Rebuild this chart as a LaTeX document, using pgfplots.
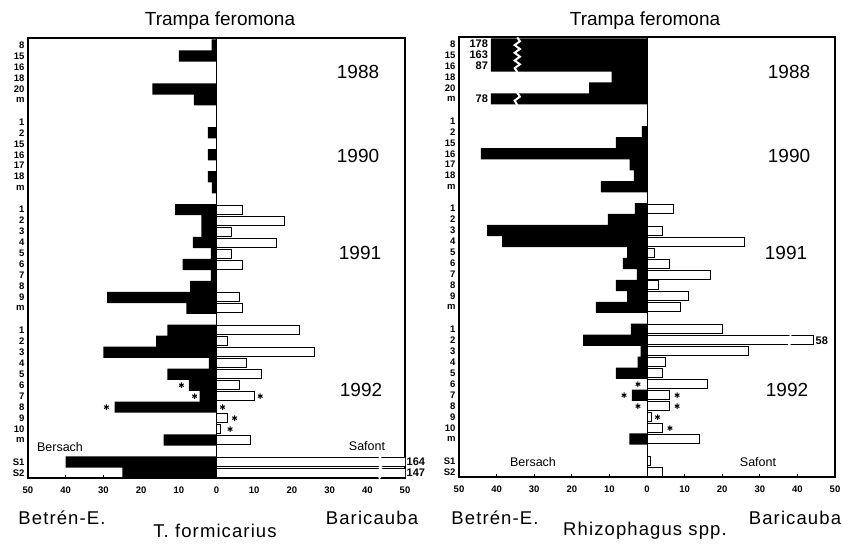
\documentclass[border=0pt]{standalone}
\usepackage{fontspec}
\setmainfont{Liberation Sans}
\newfontfamily\spacedfont[LetterSpace=6]{Liberation Sans}
\usepackage{pgfplots}
\usepackage{pgfplotstable}
\pgfplotsset{compat=1.18}

% ---- T. formicarius: Betren-E. (black, to the left) ----
\pgfplotstableread{
pos val
1 -1.3
2 -10
5 -17
6 -6
9 -2.3
11 -2.3
13 -2.3
14 -1.2
16 -11
17 -4
18 -4
19 -6.3
20 -1.5
21 -9
22 -1.5
23 -7
24 -29
25 -8
27 -13
28 -16
29 -30
30 -2
31 -13
32 -7.3
33 -4.5
34 -27
37 -14
39 -40
40 -25
}\leftblack
% ---- T. formicarius: Baricauba (white, to the right) ----
\pgfplotstableread{
pos val
16 7
17 18
18 4
19 16
20 4
21 7
24 6
25 7
27 22
28 3
29 26
30 8
31 12
32 6
33 10
35 3
36 1
37 9
39 164
40 147
}\leftwhite
% ---- Rhizophagus spp.: Betren-E. ----
\pgfplotstableread{
pos val
1 -178
2 -163
3 -87
4 -9.4
5 -15.4
6 -78
9 -1.4
10 -8.3
11 -44.2
12 -4.6
13 -3.5
14 -12.3
16 -3.2
17 -10.4
18 -42.5
19 -38.5
20 -5.3
21 -6.4
22 -2.7
23 -8.3
24 -5.3
25 -13.6
27 -4.3
28 -17
29 -1.7
30 -2.5
31 -8.3
33 -4
37 -4.7
}\rightblack
% ---- Rhizophagus spp.: Baricauba ----
\pgfplotstableread{
pos val
16 7
18 4
19 26
20 2
21 6
22 17
23 3
24 11
25 9
27 20
28 58
29 27
30 5
31 4
32 16
33 6
34 6
35 1.2
36 4
37 14
39 1
40 4
}\rightwhite

\pgfplotsset{
  panel/.style={
    scale only axis, height=440pt,
    xmin=-50, xmax=50, ymin=0.36, ymax=40.46, y dir=reverse,
    clip mode=individual,
    axis line style={line width=1.3pt},
    xtick={-50,-40,...,50},
    xticklabels={50,40,30,20,10,0,10,20,30,40,50},
    xtick pos=bottom, tick align=inside,
    major tick length=3pt,
    xtick style={line width=0.8pt, black},
    ytick={1,2,3,4,5,6,8,9,10,11,12,13,14,16,17,18,19,20,21,22,23,24,25,27,28,29,30,31,32,33,34,35,36,37,39,40},
    yticklabels={8,15,16,18,20,m,1,2,15,16,17,18,m,1,2,3,4,5,6,7,8,9,m,1,2,3,4,5,6,7,8,9,10,m,S1,S2},
    ytick style={draw=none},
    tick label style={font=\bfseries\fontsize{9.5}{10}\selectfont},
    xticklabel style={yshift=-5pt},
    yticklabel style={xshift=0pt},
    /pgf/number format/assume math mode=true,
  },
  blackbar/.style={xbar, bar shift=0pt, bar width=1.02, fill=black, draw=none},
  whitebar/.style={xbar, bar shift=0pt, bar width=0.82, fill=white, draw=black, line width=0.9pt},
  stars/.style={only marks, mark=asterisk, mark size=2.7pt, line width=1pt, black},
}

\begin{document}
\begin{tikzpicture}
\useasboundingbox (0pt,0pt) rectangle (842pt,-544pt);

% ================= Left panel: T. formicarius =================
\begin{axis}[panel, width=377pt, at={(28pt,-478pt)}, anchor=south west]
\addplot[blackbar] table[x=val, y=pos] {\leftblack};
\addplot[whitebar] table[x=val, y=pos] {\leftwhite};
\draw[line width=1pt] (axis cs:0,0.36) -- (axis cs:0,40.46);
\addplot[stars] coordinates {(-9.3,32) (-5.8,33) (-29.2,34) (11.6,33) (1.6,34) (4.8,35) (3.6,36)};
% break marks
\draw[white, line width=2pt] (axis cs:43.1,38.45) -- (axis cs:43.8,38.8) -- (axis cs:42.6,39.15) -- (axis cs:43.8,39.5) -- (axis cs:42.6,39.85) -- (axis cs:43.8,40.2) -- (axis cs:43.1,40.5);
\node[anchor=west, inner sep=1.5pt, font=\bfseries\fontsize{11}{12}\selectfont] at (axis cs:50,39) {164};
\node[anchor=west, inner sep=1.5pt, font=\bfseries\fontsize{11}{12}\selectfont] at (axis cs:50,40) {147};
\end{axis}

% ================= Right panel: Rhizophagus spp. =================
\begin{axis}[panel, width=376pt, at={(459pt,-477pt)}, anchor=south west]
\addplot[blackbar, x filter/.expression={x<-60 ? -41.5 : x}] table[x=val, y=pos] {\rightblack};
\addplot[whitebar, x filter/.expression={x>50 ? 44.2 : x}] table[x=val, y=pos] {\rightwhite};
\draw[line width=1pt] (axis cs:0,0.36) -- (axis cs:0,40.46);
\addplot[stars] coordinates {(-2.4,32) (-6.1,33) (-2.4,34) (8,33) (8,34) (2.8,35) (6.1,36)};
% break marks
\draw[white, line width=2pt] (axis cs:-34.5,0.4) -- (axis cs:-33.8,0.75) -- (axis cs:-35.2,1.1) -- (axis cs:-33.8,1.45) -- (axis cs:-35.2,1.8) -- (axis cs:-33.8,2.15) -- (axis cs:-35.2,2.5) -- (axis cs:-33.8,2.85) -- (axis cs:-35.2,3.2) -- (axis cs:-34.5,3.55);
\draw[white, line width=2pt] (axis cs:-34.5,5.45) -- (axis cs:-33.8,5.8) -- (axis cs:-35.2,6.15) -- (axis cs:-34.5,6.55);
\draw[white, line width=2pt] (axis cs:38,27.55) -- (axis cs:38.7,27.85) -- (axis cs:37.3,28.15) -- (axis cs:38,28.45);
\node[anchor=east, inner sep=1pt, font=\bfseries\fontsize{11}{12}\selectfont] at (axis cs:-42,1) {178};
\node[anchor=east, inner sep=1pt, font=\bfseries\fontsize{11}{12}\selectfont] at (axis cs:-42,2) {163};
\node[anchor=east, inner sep=1pt, font=\bfseries\fontsize{11}{12}\selectfont] at (axis cs:-42,3) {87};
\node[anchor=east, inner sep=1pt, font=\bfseries\fontsize{11}{12}\selectfont] at (axis cs:-42,6) {78};
\node[anchor=west, inner sep=1.5pt, font=\bfseries\fontsize{11}{12}\selectfont] at (axis cs:44.4,28) {58};
\end{axis}

% ================= Texts =================
\begin{scope}[font=\fontsize{19}{21}\selectfont]
\node at (220pt,-21pt) {Trampa feromona};
\node at (645pt,-21pt) {Trampa feromona};
\node at (358pt,-72pt) {1988};
\node at (358pt,-156pt) {1990};
\node at (360pt,-253pt) {1991};
\node at (361pt,-390pt) {1992};
\node at (789pt,-72pt) {1988};
\node at (789pt,-156pt) {1990};
\node at (786pt,-253pt) {1991};
\node at (787pt,-390pt) {1992};
\end{scope}
\begin{scope}[font=\spacedfont\fontsize{18.5}{20}\selectfont]
\node at (62pt,-518pt) {Betrén-E.};
\node at (372pt,-518pt) {Baricauba};
\node at (215pt,-531pt) {T. formicarius};
\node at (495pt,-518pt) {Betrén-E.};
\node at (795pt,-518pt) {Baricauba};
\node at (645pt,-531pt) {Rhizophagus spp.};
\end{scope}
\begin{scope}[font=\fontsize{12.5}{13}\selectfont]
\node at (60pt,-447pt) {Bersach};
\node at (367pt,-446pt) {Safont};
\node at (533pt,-462pt) {Bersach};
\node at (758pt,-462pt) {Safont};
\end{scope}
\end{tikzpicture}
\end{document}
